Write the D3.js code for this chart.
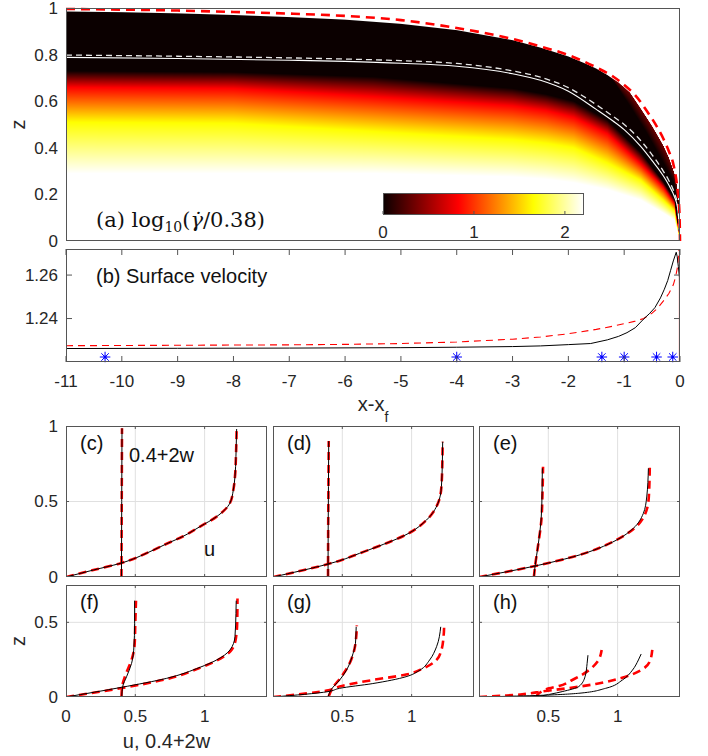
<!DOCTYPE html>
<html><head><meta charset="utf-8">
<script src="https://cdn.jsdelivr.net/npm/d3@7"></script>
<style>
body{margin:0;background:#fff}
svg{display:block}
text{font-family:"Liberation Sans",Arial,Helvetica,sans-serif;fill:#262626}
</style>
</head><body>
<svg id="chart" width="708" height="756"></svg>
<script>
// ================= DATA =================
// tick labels
const xTicksB = [-11,-10,-9,-8,-7,-6,-5,-4,-3,-2,-1,0];
const yTicksA = [0,0.2,0.4,0.6,0.8,1];
const yTicksB = [1.24,1.26];
const cbTicks = [0,1,2];
const profTicksX = [0,0.5,1];
const profTicksYTop = [0,0.5,1];
const profTicksYBot = [0,0.5];

// colormap ("hot") and colour-bar range
const hotNodes = [0,0.375,0.75,1];
const hotColors = ["#0b0000","#ff0000","#ffff00","#ffffff"];
const cbMax = 2.21;

// panel (a): simulated free surface (top of the coloured field)
const surfX = [-11,-10,-9,-8,-7,-6,-5,-4,-3,-2.5,-2,-1.7,-1.5,-1.3,-1.1,-0.9,-0.7,-0.5,-0.4,-0.3,-0.2,-0.1,-0.05,-0.02,0];
const surfZ = [0.985,0.982,0.977,0.970,0.961,0.950,0.932,0.905,0.862,0.830,0.792,0.762,0.740,0.712,0.680,0.638,0.567,0.493,0.452,0.410,0.358,0.290,0.230,0.160,0];
// panel (a): model free surface (red dashed)
const modelTopX = [-11,-10,-9,-8,-7,-6,-5,-4,-3,-2.5,-2,-1.5,-1.2,-1,-0.8,-0.6,-0.4,-0.3,-0.2,-0.11,-0.04,-0.01,0];
const modelTopZ = [0.996,0.993,0.989,0.983,0.976,0.966,0.948,0.914,0.867,0.835,0.798,0.745,0.706,0.670,0.625,0.560,0.485,0.440,0.385,0.320,0.210,0.120,0];
// panel (a): yield surface, simulation (white solid) and model (white dashed)
const yieldX = [-11,-9,-7,-6,-5,-4,-3,-2.5,-2,-1.5,-1.2,-1,-0.7,-0.5,-0.3,-0.2,-0.1,-0.04,0];
const yieldZ = [0.788,0.783,0.776,0.771,0.763,0.750,0.718,0.690,0.643,0.565,0.515,0.478,0.405,0.345,0.280,0.240,0.190,0.140,0];
const yieldModelZ = [0.798,0.793,0.786,0.781,0.774,0.762,0.730,0.703,0.658,0.585,0.535,0.500,0.430,0.370,0.300,0.260,0.205,0.150,0];
// panel (a): heights of the colour levels log10(gdot/0.38) = 0, 0.83, 1.66, 2.21
const levelX = [-11,-8,-5.5,-3,-2.4,-1.9,-1.3,-0.7,-0.3,-0.1,0];
const lev0 = [0.73,0.725,0.705,0.655,0.63,0.60,0.52,0.38,0.255,0.18,0];
const levRed = [0.66,0.655,0.62,0.58,0.56,0.53,0.46,0.33,0.23,0.16,0];
const levYellow = [0.51,0.505,0.47,0.435,0.42,0.40,0.335,0.26,0.175,0.13,0];
const levWhite = [0.29,0.29,0.29,0.275,0.265,0.25,0.22,0.175,0.12,0.09,0];
// panel (a): dark-red wedge under the surface near the front (lower edge, value at surface)
const wedgeX = [-1.3,-1.2,-0.9,-0.6,-0.3,-0.12,-0.02];
const wedgeZ = [0.712,0.69,0.58,0.465,0.335,0.255,0.15];
const wedgeValue = 0.33;

// panel (b): surface velocity
const velX = [-11,-9,-7,-5,-4,-3,-2.5,-2,-1.6,-1.3,-1.1,-0.95,-0.8,-0.65,-0.55,-0.45,-0.35,-0.28,-0.22,-0.17,-0.12,-0.09,-0.068,-0.05,-0.03,-0.01,0];
const velSim = [1.2262,1.2263,1.2264,1.2266,1.2268,1.2271,1.2274,1.2280,1.2285,1.2302,1.2318,1.2335,1.2358,1.2398,1.2422,1.2450,1.2495,1.2535,1.2575,1.2620,1.2665,1.2688,1.2705,1.2685,1.2640,1.2590,1.2202];
const velModelX = [-11,-9,-7,-6,-5,-4,-3,-2.5,-2,-1.5,-1.2,-0.95,-0.8,-0.65,-0.5,-0.4,-0.3,-0.2,-0.12,-0.08,-0.05,-0.03,-0.02,-0.01];
const velModel = [1.2275,1.2277,1.2279,1.2281,1.2285,1.2292,1.2305,1.2315,1.2330,1.2350,1.2365,1.2379,1.2388,1.2400,1.2425,1.2448,1.2480,1.2515,1.2555,1.2590,1.2630,1.2680,1.2720,1.2780];
const frontX = [0];
const stationX = [-10.3,-4,-1.4,-1,-0.42,-0.13];
const stationV = [1.2223,1.2223,1.2223,1.2223,1.2223,1.2223];

// panels (c)-(h): u profiles and 0.4+2w profiles (sim = black, model = red dashed)
const cZu=[0,0.046,0.09,0.168,0.22,0.27,0.334,0.40,0.49,0.576,0.665,0.8,0.98];
const cU =[0,0.197,0.39,0.606,0.726,0.846,0.967,1.087,1.183,1.207,1.219,1.226,1.231];
const cZuM=cZu, cUM=cU;
const cZw=[0,0.5,0.985], cW=[0.40,0.402,0.404];
const cZwM=[0,0.5,0.985], cWM=[0.40,0.402,0.404];

const dZu=[0,0.086,0.108,0.157,0.19,0.293,0.377,0.488,0.598,0.775,0.896];
const dU =[0,0.397,0.481,0.625,0.722,0.986,1.107,1.19,1.215,1.222,1.224];
const dZuM=dZu, dUM=dU;
const dZw=[0,0.3,0.6,0.90], dW=[0.397,0.398,0.400,0.402];
const dZwM=[0,0.3,0.6,0.90], dWM=[0.397,0.398,0.400,0.402];

const eZu=[0,0.073,0.134,0.245,0.322,0.42,0.53,0.72];
const eU =[0,0.405,0.68,0.993,1.113,1.185,1.21,1.222];
const eZuM=[0,0.073,0.134,0.245,0.322,0.42,0.53,0.73];
const eUM =[0,0.405,0.68,0.99,1.12,1.20,1.225,1.232];
const eZw=[0,0.068,0.22,0.377,0.554,0.72], eW=[0.396,0.404,0.428,0.448,0.455,0.457];
const eZwM=[0,0.068,0.22,0.377,0.554,0.73], eWM=[0.396,0.404,0.428,0.450,0.458,0.462];

const fZu=[0,0.065,0.125,0.199,0.248,0.315,0.404,0.56,0.645];
const fU =[0,0.402,0.726,0.967,1.087,1.183,1.219,1.226,1.228];
const fZuM=[0,0.06,0.12,0.195,0.245,0.31,0.39,0.5,0.66];
const fUM =[0,0.402,0.726,0.967,1.09,1.19,1.225,1.235,1.237];
const fZw=[0,0.07,0.136,0.225,0.337,0.49,0.645], fW=[0.402,0.409,0.437,0.473,0.49,0.495,0.495];
const fZwM=[0,0.07,0.15,0.24,0.35,0.5,0.645], fWM=[0.40,0.405,0.43,0.47,0.495,0.50,0.505];

const gZu=[0,0.036,0.058,0.09,0.136,0.18,0.248,0.337,0.47];
const gU =[0,0.397,0.48,0.72,0.96,1.06,1.13,1.18,1.21];
const gZuM=[0,0.045,0.07,0.114,0.15,0.19,0.248,0.315,0.40,0.49];
const gUM =[0,0.40,0.48,0.72,0.96,1.08,1.18,1.215,1.23,1.235];
const gZw=[0,0.05,0.114,0.18,0.29,0.36,0.47], gW=[0.397,0.42,0.481,0.53,0.577,0.595,0.60];
const gZwM=[0,0.06,0.136,0.22,0.31,0.40,0.48], gWM=[0.40,0.43,0.493,0.55,0.585,0.60,0.605];

const hZu=[0,0.01,0.025,0.058,0.114,0.18,0.248,0.288];
const hU =[0,0.41,0.72,0.913,1.035,1.107,1.15,1.17];
const hZuM=[0,0.01,0.04,0.087,0.136,0.185,0.236,0.315];
const hUM =[0,0.2,0.481,0.842,1.058,1.178,1.231,1.25];
const hZw=[0,0.036,0.07,0.136,0.225,0.28], hW=[0.409,0.60,0.72,0.765,0.78,0.786];
const hZwM=[0,0.025,0.058,0.074,0.114,0.18,0.236,0.315], hWM=[0.41,0.433,0.505,0.577,0.673,0.794,0.854,0.885];

const panelLabels = ["(c)","(d)","(e)","(f)","(g)","(h)"];

// ================= DRAW =================
const svg = d3.select("#chart");
const FR = "#555";
const defs = svg.append("defs");
const zip = (xs, ys) => xs.map((x,i)=>[x, ys[i]]);
function clip(id,x,y,w,h){ defs.append("clipPath").attr("id",id).append("rect").attr("x",x).attr("y",y).attr("width",w).attr("height",h); return `url(#${id})`; }

// ---------- panel (a) ----------
const aL=66,aR=680,aT=8,aB=241;
const xA = d3.scaleLinear().domain([-11,0]).range([aL,aR]);
const yA = d3.scaleLinear().domain([0,1]).range([aB,aT]);
const color = d3.scaleLinear().domain(hotNodes.map(t=>t*cbMax)).range(hotColors).clamp(true);
const levelVals = hotNodes.map(t=>t*cbMax).reverse();

(function heatmap(){
  const cw=aR-aL, ch=aB-aT;
  const canvas=document.createElement("canvas"); canvas.width=cw; canvas.height=ch;
  const ctx=canvas.getContext("2d");
  const im=ctx.createImageData(cw,ch);
  const hAt=d3.scaleLinear().domain(surfX).range(surfZ);
  const wAt=d3.scaleLinear().domain(wedgeX).range(wedgeZ);
  const L=[levWhite,levYellow,levRed,lev0].map(a=>d3.scaleLinear().domain(levelX).range(a));
  for(let i=0;i<cw;i++){
    const xv=xA.invert(aL+i+0.5);
    const h=hAt(xv);
    if(h<=0) continue;
    const lv=L.map(f=>f(xv));
    if(!(lv[0]<lv[1]&&lv[1]<lv[2]&&lv[2]<lv[3])) continue;
    const vz=d3.scaleLinear().domain(lv).range(levelVals).clamp(true);
    const inWedge = xv>wedgeX[0] && xv<wedgeX[wedgeX.length-1];
    const wz = inWedge ? wAt(xv) : 2;
    for(let j=0;j<ch;j++){
      const zt=yA.invert(aT+j), zb=yA.invert(aT+j+1);
      const cover=Math.max(0,Math.min(1,(h-zb)/(zt-zb)));
      if(cover<=0) continue;
      const z=(zt+zb)/2;
      let v=vz(z);
      if(z>wz && h>wz) v=Math.max(v, wedgeValue*Math.min(1,(z-wz)/(h-wz)));
      const c=d3.rgb(color(v));
      const k=4*(j*cw+i);
      im.data[k]=c.r; im.data[k+1]=c.g; im.data[k+2]=c.b; im.data[k+3]=Math.round(255*cover);
    }
  }
  ctx.putImageData(im,0,0);
  svg.append("image").attr("x",aL).attr("y",aT).attr("width",cw).attr("height",ch)
     .attr("preserveAspectRatio","none").attr("href",canvas.toDataURL());
})();

const gA = svg.append("g").attr("clip-path", clip("clipA",aL,aT-2,aR-aL+2,aB-aT+2));
const lineA = d3.line().x(d=>xA(d[0])).y(d=>yA(d[1])).curve(d3.curveMonotoneX);
gA.append("path").attr("d",lineA(zip(yieldX,yieldModelZ))).attr("fill","none")
  .attr("stroke","#e8e8e8").attr("stroke-width",1.3).attr("stroke-dasharray","6,4");
gA.append("path").attr("d",lineA(zip(yieldX,yieldZ))).attr("fill","none")
  .attr("stroke","#ffffff").attr("stroke-width",1.1);
gA.append("path").attr("d",lineA(zip(modelTopX,modelTopZ))).attr("fill","none")
  .attr("stroke","#ff0000").attr("stroke-width",2.6).attr("stroke-dasharray","9,6");
svg.append("rect").attr("x",aL+0.5).attr("y",aT+0.5).attr("width",aR-aL-1).attr("height",aB-aT-1)
  .attr("fill","none").attr("stroke",FR);
svg.append("g").selectAll("text").data(yTicksA).join("text")
  .attr("x",58).attr("y",d=>yA(d)).attr("dy","0.35em").attr("text-anchor","end")
  .style("font-size","17px").text(d=>String(d));
svg.append("text").attr("transform",`translate(25,${(aT+aB)/2}) rotate(-90)`)
  .attr("text-anchor","middle").style("font-size","20px").text("z");

// label (a)
const labA = svg.append("text").attr("x",96).attr("y",227)
  .style("font-family",'"DejaVu Serif","Liberation Serif",serif').style("font-size","21px").style("fill","#111");
labA.append("tspan").text("(a) log");
labA.append("tspan").attr("dy",5).style("font-size","14px").text("10");
labA.append("tspan").attr("dy",-5).text("(");
labA.append("tspan").style("font-style","italic").text("\u03B3\u0307");
labA.append("tspan").text("/0.38)");

// colour bar
const cbL=383,cbR=584,cbT=193,cbB=215;
const xCb = d3.scaleLinear().domain([0,cbMax]).range([cbL,cbR]);
const grad = defs.append("linearGradient").attr("id","hotGrad");
grad.selectAll("stop").data(hotNodes).join("stop")
  .attr("offset",d=>d).attr("stop-color",(d,i)=>hotColors[i]);
svg.append("rect").attr("x",cbL+0.5).attr("y",cbT+0.5).attr("width",cbR-cbL-1).attr("height",cbB-cbT-1)
  .attr("fill","url(#hotGrad)").attr("stroke",FR);
svg.append("g").selectAll("line").data(cbTicks).join("line")
  .attr("x1",d=>xCb(d)).attr("x2",d=>xCb(d)).attr("y1",cbB-1).attr("y2",cbB-4).attr("stroke",FR);
svg.append("g").selectAll("text").data(cbTicks).join("text")
  .attr("x",d=>xCb(d)).attr("y",238).attr("text-anchor","middle").style("font-size","17px").text(d=>String(d));

// ---------- panel (b) ----------
const bT=249,bB=362;
const xB = d3.scaleLinear().domain([-11,0]).range([aL,aR]);
const yB = d3.scaleLinear().domain([1.22,1.272]).range([bB,bT]);
const gB = svg.append("g").attr("clip-path", clip("clipB",aL,bT,aR-aL,bB-bT));
const lineB = d3.line().x(d=>xB(d[0])).y(d=>yB(d[1]));
gB.append("path").attr("d",lineB(zip(velModelX,velModel))).attr("fill","none")
  .attr("stroke","#ff0000").attr("stroke-width",1.1).attr("stroke-dasharray","7,5");
gB.selectAll("line.front").data(frontX).join("line").attr("class","front")
  .attr("x1",d=>xB(d)-0.5).attr("x2",d=>xB(d)-0.5).attr("y1",bT).attr("y2",bB).attr("stroke","#ff0000").attr("stroke-width",1.2);
gB.append("path").attr("d",lineB(zip(velX,velSim))).attr("fill","none")
  .attr("stroke","#000").attr("stroke-width",1);
// stations (asterisks)
const st = svg.append("g").selectAll("g").data(zip(stationX,stationV)).join("g")
  .attr("transform",d=>`translate(${xB(d[0])},${yB(d[1])})`);
const symPlus = d3.symbolPlus || d3.symbolCross, symTimes = d3.symbolTimes || d3.symbolX || d3.symbolCross;
st.append("path").attr("d",d3.symbol(symPlus,38)).attr("fill","none").attr("stroke","#0000ff").attr("stroke-width",1);
st.append("path").attr("d",d3.symbol(symTimes,38)).attr("fill","none").attr("stroke","#0000ff").attr("stroke-width",1);
st.append("circle").attr("r",1.6).attr("fill","#0000ff");

svg.append("rect").attr("x",aL+0.5).attr("y",bT+0.5).attr("width",aR-aL-1).attr("height",bB-bT-1)
  .attr("fill","none").attr("stroke",FR);
const tkB = svg.append("g").attr("stroke",FR);
xTicksB.forEach(d=>{
  tkB.append("line").attr("x1",xB(d)).attr("x2",xB(d)).attr("y1",bT).attr("y2",bT+6);
  tkB.append("line").attr("x1",xB(d)).attr("x2",xB(d)).attr("y1",bB).attr("y2",bB-6);
});
yTicksB.forEach(d=>{
  tkB.append("line").attr("x1",aL).attr("x2",aL+6).attr("y1",yB(d)).attr("y2",yB(d));
  tkB.append("line").attr("x1",aR).attr("x2",aR-6).attr("y1",yB(d)).attr("y2",yB(d));
});
svg.append("g").selectAll("text").data(xTicksB).join("text")
  .attr("x",d=>xB(d)).attr("y",387).attr("text-anchor","middle").style("font-size","17px").text(d=>String(d));
svg.append("g").selectAll("text").data(yTicksB).join("text")
  .attr("x",58).attr("y",d=>yB(d)).attr("dy","0.35em").attr("text-anchor","end").style("font-size","17px").text(d=>d.toFixed(2));
svg.append("text").attr("x",96).attr("y",283).style("font-size","20px").style("fill","#111").text("(b) Surface velocity");
const xl = svg.append("text").attr("x",373).attr("y",411).attr("text-anchor","middle").style("font-size","20px");
xl.append("tspan").text("x-x");
xl.append("tspan").attr("dy",11).style("font-size","14px").text("f");

// ---------- panels (c)-(h) ----------
const colX = [66,273,479], colW = 201;
const rows = [{t:426,b:577,max:1,ticks:profTicksYTop},{t:585,b:697,max:0.75,ticks:profTicksYBot}];
const profU  = [zip(cU,cZu),zip(dU,dZu),zip(eU,eZu),zip(fU,fZu),zip(gU,gZu),zip(hU,hZu)];
const profUM = [zip(cUM,cZuM),zip(dUM,dZuM),zip(eUM,eZuM),zip(fUM,fZuM),zip(gUM,gZuM),zip(hUM,hZuM)];
const profW  = [zip(cW,cZw),zip(dW,dZw),zip(eW,eZw),zip(fW,fZw),zip(gW,gZw),zip(hW,hZw)];
const profWM = [zip(cWM,cZwM),zip(dWM,dZwM),zip(eWM,eZwM),zip(fWM,fZwM),zip(gWM,gZwM),zip(hWM,hZwM)];

panelLabels.forEach((lab,k)=>{
  const r = rows[Math.floor(k/3)], c = k%3;
  const x0 = colX[c], x1 = x0+colW;
  const xs = d3.scaleLinear().domain([0,1.45]).range([x0,x1]);
  const ys = d3.scaleLinear().domain([0,r.max]).range([r.b,r.t]);
  const g = svg.append("g");
  [0.5,1].forEach(v=>g.append("line").attr("x1",xs(v)).attr("x2",xs(v)).attr("y1",r.t).attr("y2",r.b).attr("stroke","#e0e0e0"));
  g.append("line").attr("x1",x0).attr("x2",x1).attr("y1",ys(0.5)).attr("y2",ys(0.5)).attr("stroke","#e0e0e0");
  const gl = g.append("g").attr("clip-path", clip("clipP"+k,x0,r.t,colW,r.b-r.t));
  const ln = d3.line().x(d=>xs(d[0])).y(d=>ys(d[1])).curve(d3.curveMonotoneY);
  [profWM[k],profUM[k]].forEach(dat=>gl.append("path").attr("d",ln(dat)).attr("fill","none")
    .attr("stroke","#ff0000").attr("stroke-width",2.6).attr("stroke-dasharray","8,5"));
  [profW[k],profU[k]].forEach(dat=>gl.append("path").attr("d",ln(dat)).attr("fill","none")
    .attr("stroke","#000").attr("stroke-width",1));
  g.append("rect").attr("x",x0+0.5).attr("y",r.t+0.5).attr("width",colW-1).attr("height",r.b-r.t-1).attr("fill","none").attr("stroke",FR);
  [0.5,1].forEach(v=>{
    g.append("line").attr("x1",xs(v)).attr("x2",xs(v)).attr("y1",r.b).attr("y2",r.b-3).attr("stroke",FR);
    g.append("line").attr("x1",xs(v)).attr("x2",xs(v)).attr("y1",r.t).attr("y2",r.t+3).attr("stroke",FR);
  });
  r.ticks.filter(v=>v>0&&v<r.max).forEach(v=>{
    g.append("line").attr("x1",x0).attr("x2",x0+3).attr("y1",ys(v)).attr("y2",ys(v)).attr("stroke",FR);
    g.append("line").attr("x1",x1).attr("x2",x1-3).attr("y1",ys(v)).attr("y2",ys(v)).attr("stroke",FR);
  });
  g.append("text").attr("x",x0+14).attr("y",r.t+24).style("font-size","20px").style("fill","#111").text(lab);
  if(c===0){
    g.selectAll("text.yt").data(r.ticks).join("text").attr("class","yt")
      .attr("x",58).attr("y",d=>ys(d)).attr("dy","0.35em").attr("text-anchor","end").style("font-size","17px").text(d=>String(d));
  }
  if(k>=3){
    const tx = c===0 ? profTicksX : profTicksX.filter(v=>v>0);
    g.selectAll("text.xt").data(tx).join("text").attr("class","xt")
      .attr("x",d=>xs(d)).attr("y",722).attr("text-anchor","middle").style("font-size","17px").text(d=>String(d));
  }
});
svg.append("text").attr("x",129).attr("y",462).style("font-size","20px").style("fill","#111").text("0.4+2w");
svg.append("text").attr("x",204).attr("y",556).style("font-size","20px").style("fill","#111").text("u");
svg.append("text").attr("transform",`translate(25,641) rotate(-90)`).attr("text-anchor","middle").style("font-size","20px").text("z");
svg.append("text").attr("x",166.5).attr("y",748).attr("text-anchor","middle").style("font-size","20px").text("u, 0.4+2w");
</script>
</body></html>
